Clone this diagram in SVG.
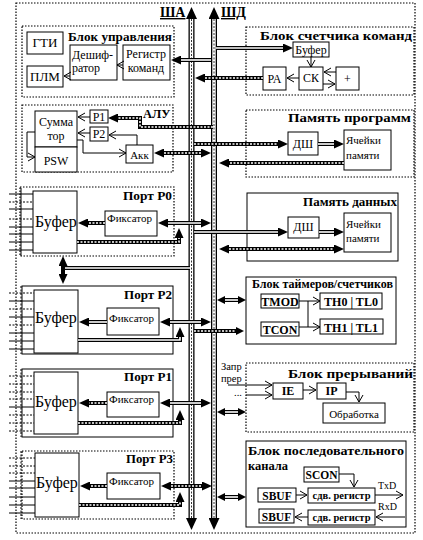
<svg xmlns="http://www.w3.org/2000/svg" width="423" height="540" viewBox="0 0 423 540" font-family="'Liberation Serif', 'DejaVu Serif', serif">
<defs>
<style>
.bx{fill:#fff;stroke:#000;stroke-width:1}
.bd{fill:#fff;stroke:#000;stroke-width:1.2;stroke-dasharray:1.5 1.5}
.k{fill:none;stroke:#000;stroke-width:4}
.w{fill:none;stroke:#fff;stroke-width:1.6}
.wd{fill:none;stroke:#fff;stroke-width:1.6;stroke-dasharray:2 1.5}
.t{fill:none;stroke:#000;stroke-width:1}
.td{fill:none;stroke:#000;stroke-width:1;stroke-dasharray:2 1.5}
.kb{fill:none;stroke:#000;stroke-width:6}
.wb{fill:none;stroke:#fff;stroke-width:3.4}
.db{fill:none;stroke:#000;stroke-width:0.8;stroke-dasharray:2 1.5}
text{font-family:'Liberation Serif','DejaVu Serif',serif;fill:#000}
.b{font-weight:bold}
.c{text-anchor:middle}
</style>
<marker id="fa" viewBox="0 0 10 9" markerWidth="10" markerHeight="9" refX="0" refY="4.5" orient="auto-start-reverse" markerUnits="userSpaceOnUse"><path d="M0,0 L10,4.5 L0,9 z" fill="#000"/></marker>
<marker id="fs" viewBox="0 0 8 8" markerWidth="8" markerHeight="8" refX="0" refY="4" orient="auto-start-reverse" markerUnits="userSpaceOnUse"><path d="M0,0 L8,4 L0,8 z" fill="#000"/></marker>
<marker id="fb" viewBox="0 0 12 11" markerWidth="12" markerHeight="11" refX="0" refY="5.5" orient="auto-start-reverse" markerUnits="userSpaceOnUse"><path d="M0,0 L12,5.5 L0,11 z" fill="#000"/></marker>
<marker id="oa" viewBox="-1 -1 9 10" markerWidth="9" markerHeight="10" refX="7" refY="4" orient="auto" markerUnits="userSpaceOnUse"><path d="M0,0 L7,4 L0,8" fill="none" stroke="#000" stroke-width="1"/></marker>
</defs>
<rect width="423" height="540" fill="#fff"/>
<rect x="16" y="3" width="399" height="530" fill="none" stroke="#000" stroke-width="1.2" stroke-dasharray="1.5 1.5"/>

<g id="buses">
<path class="kb" d="M191.5,19 V518" marker-start="url(#fb)" marker-end="url(#fb)"/>
<path class="wb" d="M191.5,19 V518"/>
<path class="db" d="M191.5,19 V518"/>
<path class="kb" d="M214,19 V518" marker-start="url(#fb)" marker-end="url(#fb)"/>
<path class="wb" d="M214,19 V518"/>
<path class="db" d="M214,19 V518"/>
<text class="b" x="160" y="17" font-size="14" text-decoration="underline">ША</text>
<text class="b" x="221" y="17" font-size="14" text-decoration="underline">ШД</text>
</g>

<g id="control">
<rect class="bd" x="22" y="26" width="152" height="71"/>
<text class="b" x="68" y="41" font-size="12.5" textLength="104" lengthAdjust="spacingAndGlyphs">Блок управления</text>
<rect class="bx" x="27" y="32" width="36" height="22"/>
<text class="c" x="45" y="47" font-size="13">ГТИ</text>
<rect class="bx" x="70" y="45" width="47" height="35"/>
<text x="72" y="59" font-size="12">Дешиф-</text>
<text x="72" y="72" font-size="12">ратор</text>
<rect class="bx" x="123" y="45" width="47" height="35"/>
<text class="c" x="146" y="58" font-size="12">Регистр</text>
<text class="c" x="146" y="72" font-size="12">команд</text>
<rect class="bx" x="27" y="66" width="36" height="21"/>
<text class="c" x="45" y="81" font-size="13">ПЛМ</text>
</g>

<g id="alu">
<rect class="bd" x="22" y="105" width="151" height="67"/>
<text class="b" x="143" y="118" font-size="12.5">АЛУ</text>
<rect class="bx" x="35" y="111" width="42" height="36"/>
<text class="c" x="56" y="126" font-size="12">Сумма</text>
<text class="c" x="56" y="140" font-size="12">тор</text>
<rect class="bx" x="35" y="147" width="42" height="25"/>
<text class="c" x="56" y="165" font-size="12">PSW</text>
<rect class="bx" x="90" y="110" width="18" height="13"/>
<text class="c" x="99" y="121" font-size="12">P1</text>
<rect class="bx" x="90" y="127" width="18" height="14"/>
<text class="c" x="99" y="138" font-size="12">P2</text>
<rect class="bx" x="126" y="145" width="27" height="18"/>
<text class="c" x="139.5" y="159" font-size="11">Акк</text>
</g>

<g id="pc">
<rect class="bd" x="246" y="27" width="168" height="68"/>
<text class="b" x="260" y="40" font-size="12.5" textLength="152" lengthAdjust="spacingAndGlyphs">Блок счетчика команд</text>
<rect class="bx" x="293" y="42" width="36" height="15"/>
<text class="c" x="311" y="54" font-size="12">Буфер</text>
<rect class="bx" x="263" y="67" width="23" height="23"/>
<text class="c" x="274.5" y="83" font-size="12">РА</text>
<rect class="bx" x="299" y="67" width="24" height="23"/>
<text class="c" x="311" y="82" font-size="12">СК</text>
<rect class="bx" x="336" y="67" width="23" height="23"/>
<text class="c" x="347.5" y="83" font-size="12">+</text>
</g>

<g id="progmem">
<rect class="bd" x="246" y="110" width="168" height="67"/>
<text class="b" x="288" y="122" font-size="12.5" textLength="123" lengthAdjust="spacingAndGlyphs">Память программ</text>
<rect class="bx" x="288" y="132" width="30" height="23"/>
<text class="c" x="303" y="148" font-size="12">ДШ</text>
<rect class="bx" x="344" y="130" width="47" height="40"/>
<text x="346" y="144" font-size="11">Ячейки</text>
<text x="346" y="159" font-size="11">памяти</text>
</g>

<g id="datamem">
<rect class="bx" x="247" y="193" width="151" height="68"/>
<text class="b" x="303" y="206" font-size="12.5" textLength="94" lengthAdjust="spacingAndGlyphs">Память данных</text>
<rect class="bx" x="288" y="217" width="31" height="21"/>
<text class="c" x="303.5" y="231" font-size="12">ДШ</text>
<rect class="bx" x="344" y="213" width="47" height="39"/>
<text x="346" y="228" font-size="11">Ячейки</text>
<text x="346" y="242" font-size="11">памяти</text>
</g>

<g id="timers">
<rect class="bx" x="246" y="277" width="150" height="67"/>
<text class="b" x="252" y="288" font-size="12" textLength="141" lengthAdjust="spacingAndGlyphs">Блок таймеров/счетчиков</text>
<rect class="bx" x="261" y="294" width="38" height="14"/>
<text class="b c" x="280" y="306" font-size="12">TMOD</text>
<rect class="bx" x="320" y="293" width="62" height="16"/>
<text class="b c" x="351" y="306" font-size="12">TH0 | TL0</text>
<rect class="bx" x="261" y="322" width="38" height="14"/>
<text class="b c" x="280" y="334" font-size="12">TCON</text>
<rect class="bx" x="320" y="319" width="63" height="15"/>
<text class="b c" x="351" y="332" font-size="12">TH1 | TL1</text>
</g>

<g id="interrupts">
<text x="221" y="370" font-size="10.5">Запр</text>
<text x="221" y="382" font-size="10.5">прер</text>
<text x="234" y="396" font-size="10.5">...</text>
<rect class="bd" x="246" y="363" width="168" height="69"/>
<text class="b" x="288" y="378" font-size="12.5" textLength="125" lengthAdjust="spacingAndGlyphs">Блок прерываний</text>
<rect class="bx" x="273" y="383" width="30" height="16"/>
<text class="b c" x="288" y="395" font-size="12">IE</text>
<rect class="bx" x="317" y="383" width="29" height="16"/>
<text class="b c" x="331.5" y="395" font-size="12">IP</text>
<rect class="bx" x="323" y="403" width="62" height="20"/>
<text class="c" x="354" y="418" font-size="11">Обработка</text>
</g>

<g id="serial">
<rect class="bx" x="246" y="441" width="160" height="86"/>
<text class="b" x="248" y="455" font-size="12.5" textLength="156" lengthAdjust="spacingAndGlyphs">Блок последовательного</text>
<text class="b" x="248" y="470" font-size="12.5">канала</text>
<rect class="bx" x="304" y="467" width="35" height="15"/>
<text class="b c" x="321.5" y="479" font-size="11.5">SCON</text>
<rect class="bx" x="258" y="488" width="38" height="14"/>
<text class="b c" x="277" y="500" font-size="11.5">SBUF</text>
<rect class="bx" x="308" y="488" width="67" height="15"/>
<text class="b c" x="341.5" y="499" font-size="10.5">сдв. регистр</text>
<rect class="bx" x="259" y="509" width="35" height="14"/>
<text class="b c" x="276.5" y="521" font-size="11.5">SBUF</text>
<rect class="bx" x="308" y="510" width="67" height="15"/>
<text class="b c" x="341.5" y="521" font-size="10.5">сдв. регистр</text>
<text x="378" y="489" font-size="10">TxD</text>
<text x="378" y="510" font-size="10">RxD</text>
</g>

<g id="portP0">
<path class="t" d="M21,188 V256 M9,194 H33 M9,209 H33 M9,227 H33 M9,234 H33 M9,242 H33 M9,250 H33"/>
<path class="td" d="M9,202 H33 M9,219 H33"/>
<rect class="bd" x="20" y="187" width="154" height="69" style="fill:none"/>
<text class="b" x="123" y="200" font-size="11.5" textLength="49" lengthAdjust="spacingAndGlyphs">Порт P0</text>
<rect class="bx" x="33" y="191" width="44" height="62"/>
<text x="35" y="227" font-size="16">Буфер</text>
<rect class="bx" x="105" y="211" width="52" height="25"/>
<text x="107" y="222" font-size="11">Фиксатор</text>
</g>

<g id="portP2">
<path class="td" d="M21,286 V354 M9,293 H34 M9,309 H34 M9,325 H34"/>
<path class="t" d="M9,301 H34 M9,317 H34 M9,333 H34 M9,341 H34 M9,349 H34"/>
<rect class="bx" x="22" y="286" width="151" height="68" style="fill:none"/>
<text class="b" x="124" y="299" font-size="11.5" textLength="48" lengthAdjust="spacingAndGlyphs">Порт P2</text>
<rect class="bx" x="34" y="290" width="44" height="63"/>
<text x="35" y="323" font-size="16">Буфер</text>
<rect class="bx" x="107" y="308" width="52" height="27"/>
<text x="109" y="322" font-size="11">Фиксатор</text>
</g>

<g id="portP1">
<path class="td" d="M21,369 V437 M9,376 H34 M9,384 H34 M9,392 H34 M9,399 H34 M9,415 H34 M9,423 H34 M9,431 H34"/>
<path class="t" d="M9,407 H34"/>
<rect class="bx" x="22" y="369" width="151" height="68" style="fill:none"/>
<text class="b" x="124" y="381" font-size="11.5" textLength="48" lengthAdjust="spacingAndGlyphs">Порт P1</text>
<rect class="bx" x="34" y="372" width="44" height="62"/>
<text x="35" y="407" font-size="16">Буфер</text>
<rect class="bx" x="107" y="392" width="52" height="25"/>
<text x="109" y="403" font-size="11">Фиксатор</text>
</g>

<g id="portP3">
<path class="td" d="M21,451 V519 M9,458 H35 M9,466 H35 M9,473 H35"/>
<path class="t" d="M9,481 H35 M9,488 H35 M9,497 H35 M9,505 H35 M9,513 H35"/>
<rect class="bd" x="22" y="451" width="152" height="68" style="fill:none"/>
<text class="b" x="126" y="463" font-size="11.5" textLength="47" lengthAdjust="spacingAndGlyphs">Порт P3</text>
<rect class="bx" x="35" y="453" width="44" height="64"/>
<text x="36" y="488" font-size="16">Буфер</text>
<rect class="bx" x="107" y="473" width="53" height="26"/>
<text x="109" y="485" font-size="11">Фиксатор</text>
</g>

<g id="connectors">
<path class="k" d="M211,60 H181" marker-end="url(#fa)"/><path class="w" d="M211,60 H181"/>
<path class="k" d="M263,78 H205" marker-end="url(#fa)"/><path class="wd" d="M263,78 H205"/>
<path class="k" d="M216,48 H283" marker-end="url(#fa)"/><path class="w" d="M216,48 H283"/>
<path class="k" d="M213,127 H140 V118 H118" marker-end="url(#fa)"/><path class="wd" d="M213,127 H140 V118 H118"/>
<path class="k" d="M164,153 H201" marker-start="url(#fa)" marker-end="url(#fa)"/><path class="wd" d="M164,153 H201"/>
<path class="k" d="M194,144 H278" marker-end="url(#fa)"/><path class="wd" d="M194,144 H278"/>
<path class="k" d="M318,144 H334" marker-end="url(#fa)"/><path class="w" d="M318,144 H334"/>
<path class="k" d="M344,163 H229" marker-end="url(#fa)"/><path class="wd" d="M344,163 H229"/>
<path class="k" d="M194,232 H278" marker-end="url(#fa)"/><path class="w" d="M194,232 H278"/>
<path class="k" d="M319,232 H334" marker-end="url(#fa)"/><path class="w" d="M319,232 H334"/>
<path class="k" d="M229,249 H334" marker-start="url(#fa)" marker-end="url(#fa)"/><path class="wd" d="M229,249 H334"/>
<path class="k" d="M105,223 H88" marker-end="url(#fa)"/><path class="wd" d="M105,223 H88"/>
<path class="k" d="M168,223 H201" marker-start="url(#fa)" marker-end="url(#fa)"/><path class="w" d="M168,223 H201"/>
<path class="k" d="M77,242 H179 V238" marker-end="url(#fa)"/><path class="wd" d="M77,242 H179 V238"/>
<path class="k" d="M63,266 V274" marker-start="url(#fa)" marker-end="url(#fa)"/>
<path class="k" d="M65,268 H190"/><path class="w" d="M65,268 H190"/>
<path class="k" d="M107,322 H89" marker-end="url(#fa)"/><path class="w" d="M107,322 H89"/>
<path class="k" d="M170,322 H201" marker-start="url(#fa)" marker-end="url(#fa)"/><path class="w" d="M170,322 H201"/>
<path class="k" d="M78,340 H180 V337" marker-end="url(#fa)"/><path class="w" d="M78,340 H180 V337"/>
<path class="k" d="M107,403 H89" marker-end="url(#fa)"/><path class="wd" d="M107,403 H89"/>
<path class="k" d="M170,403 H201" marker-start="url(#fa)" marker-end="url(#fa)"/><path class="w" d="M170,403 H201"/>
<path class="k" d="M78,423 H180 V420" marker-end="url(#fa)"/><path class="wd" d="M78,423 H180 V420"/>
<path class="k" d="M107,486 H90" marker-end="url(#fa)"/><path class="wd" d="M107,486 H90"/>
<path class="k" d="M171,486 H202" marker-start="url(#fa)" marker-end="url(#fa)"/><path class="wd" d="M171,486 H202"/>
<path class="k" d="M79,505 H180 V502" marker-end="url(#fa)"/><path class="wd" d="M79,505 H180 V502"/>
<path class="k" d="M225,300 H238" marker-start="url(#fs)" marker-end="url(#fs)"/><path class="w" d="M225,300 H238"/>
<path class="k" d="M194,331 H236" marker-end="url(#fs)"/><path class="wd" d="M194,331 H236"/>
<path class="k" d="M225,412 H238" marker-start="url(#fs)" marker-end="url(#fs)"/><path class="w" d="M225,412 H238"/>
<path class="k" d="M225,497 H238" marker-start="url(#fs)" marker-end="url(#fs)"/><path class="w" d="M225,497 H238"/>

<path class="t" d="M123,65 H117" marker-end="url(#oa)"/>
<path class="t" d="M70,76 H64" marker-end="url(#oa)"/>
<path class="t" d="M90,117 H78" marker-end="url(#oa)"/>
<path class="t" d="M90,133 H78" marker-end="url(#oa)"/>
<path class="t" d="M77,140 H83 V153 H126" marker-end="url(#oa)"/>
<path class="t" d="M137,145 V135 H109" marker-end="url(#oa)"/>
<path class="t" d="M35,132 H27 V157 H35" marker-end="url(#oa)"/>
<path class="t" d="M311,57 V67" marker-end="url(#oa)"/>
<path class="t" d="M299,78 H287" marker-end="url(#oa)"/>
<path class="t" d="M336,72 H324" marker-end="url(#oa)"/>
<path class="t" d="M323,84 H335" marker-end="url(#oa)"/>
<path class="t" d="M299,301 H320" marker-end="url(#oa)"/>
<path class="t" d="M308,301 V327"/>
<path class="t" d="M299,327 H320" marker-end="url(#oa)"/>
<path class="t" d="M228,385 H272" marker-end="url(#oa)"/>
<path class="t" d="M246,395 H272" marker-end="url(#oa)"/>
<path class="t" d="M303,390 H316" marker-end="url(#oa)"/>
<path class="t" d="M346,392 H359 V402" marker-end="url(#oa)"/>
<path class="t" d="M339,474 H354 V487" marker-end="url(#oa)"/>
<path class="t" d="M296,495 H307" marker-end="url(#oa)"/>
<path class="t" d="M375,495 H403" marker-end="url(#oa)"/>
<path class="t" d="M405,517 H376" marker-end="url(#oa)"/>
<path class="t" d="M308,517 H295" marker-end="url(#oa)"/>
</g>
</svg>
